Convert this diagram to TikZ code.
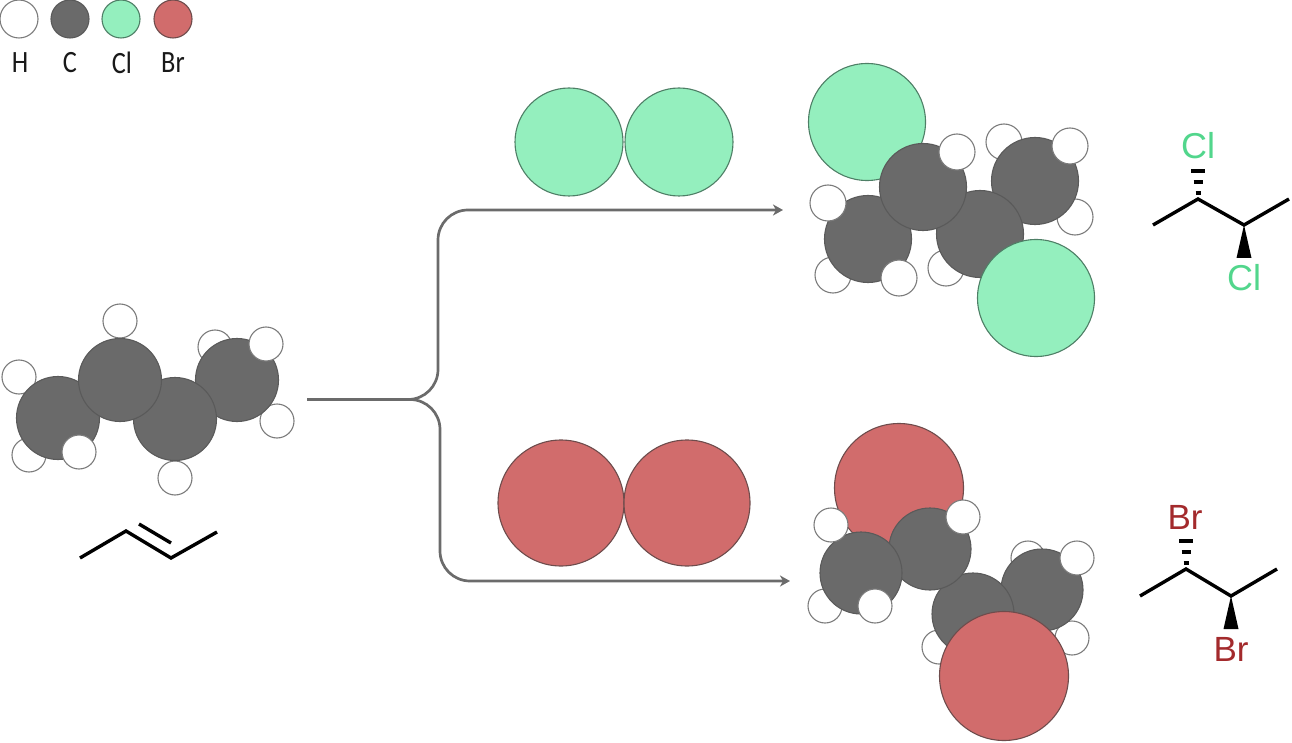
\documentclass[tikz,border=0pt]{standalone}
\usepackage{fontspec}
\setmainfont{Liberation Sans}
\newfontfamily\handfont{Carlito}
\usetikzlibrary{arrows.meta}
\definecolor{colH}{HTML}{FFFFFF}
\definecolor{colC}{HTML}{6A6A6A}
\definecolor{colCl}{HTML}{94EFBE}
\definecolor{colBr}{HTML}{D16C6C}
\definecolor{lineH}{HTML}{7C7C7C}
\definecolor{lineC}{HTML}{5A5A5A}
\definecolor{lineCl}{HTML}{4E7F66}
\definecolor{lineBr}{HTML}{6E4C4C}
\definecolor{textCl}{HTML}{52D68C}
\definecolor{textBr}{HTML}{A32A2C}
\tikzset{
	atomh/.style={circle,draw=lineH,fill=colH,line width=1.1pt,inner sep=0pt,minimum size=#1},
	atomc/.style={circle,draw=lineC,fill=colC,line width=1.1pt,inner sep=0pt,minimum size=#1},
	atomcl/.style={circle,draw=lineCl,fill=colCl,line width=1.1pt,inner sep=0pt,minimum size=#1},
	atombr/.style={circle,draw=lineBr,fill=colBr,line width=1.1pt,inner sep=0pt,minimum size=#1},
	legendtext/.style={font=\handfont\fontsize{31}{31}\selectfont,xscale=.85,transform shape,text=black!90},
	clabel/.style={font=\fontsize{36}{36}\selectfont,text=textCl,inner sep=0pt},
	brlabel/.style={font=\fontsize{35}{35}\selectfont,text=textBr,inner sep=0pt},
	skeleton/.style={line width=3.4pt,black,line join=miter},
	hashbond/.style={line width=3.2pt,black},
	reaction/.style={line width=2.7pt,draw=black!58,rounded corners=30pt,-{Stealth[length=10pt,width=11pt,inset=3pt]}}
}
\begin{document}
\begin{tikzpicture}[x=1pt,y=-1pt]
	\useasboundingbox (0,0) rectangle (1292,743);
	%Legend
	\node[atomh=38] (legH) at (19,19) {};
	\node[atomc=38] (legC) at (70,19) {};
	\node[atomcl=38] (legCl) at (121,19) {};
	\node[atombr=38] (legBr) at (173,19) {};
	\node[legendtext] (txtH) at (20,63) {H};
	\node[legendtext] (txtC) at (70,63) {C};
	\node[legendtext] (txtCl) at (122,63) {Cl};
	\node[legendtext] (txtBr) at (173,63) {Br};
	%Butene, back H
	\node[atomh=34] (buHa) at (215,347) {};
	\node[atomh=34] (buHb) at (29,455) {};
	\node[atomh=34] (buHc) at (120,321) {};
	\node[atomh=34] (buHd) at (19,377) {};
	\node[atomh=34] (buHe) at (175,478) {};
	\node[atomh=34] (buHf) at (277,421) {};
	%Butene, C
	\node[atomc=83] (buCd) at (237,380) {};
	\node[atomc=83] (buCc) at (175,419) {};
	\node[atomc=83] (buCa) at (58,418) {};
	\node[atomc=83] (buCb) at (120,380) {};
	%Butene, front H
	\node[atomh=34] (buHg) at (79,452) {};
	\node[atomh=34] (buHh) at (266,344) {};
	%Butene skeleton
	\coordinate (buSa) at (80,558);
	\coordinate (buSb) at (126,531);
	\coordinate (buSc) at (171,558);
	\coordinate (buSd) at (217,532);
	\coordinate (buSe) at (139,524);
	\coordinate (buSf) at (171,543);
	\draw[skeleton] (buSa)--(buSb)--(buSc)--(buSd);
	\draw[skeleton] (buSe)--(buSf);
	%Halogen molecules
	\node[atomcl=108] (clA) at (569,142) {};
	\node[atomcl=108] (clB) at (679,142) {};
	\node[atombr=126] (brA) at (561,503) {};
	\node[atombr=126] (brB) at (687,503) {};
	%Arrows
	\coordinate (start) at (307,399.5);
	\coordinate (forkUp) at (438,399.5);
	\coordinate (forkDown) at (440,399.5);
	\coordinate (kneeUp) at (438,210);
	\coordinate (kneeDown) at (440,581);
	\coordinate (tipUp) at (783,210);
	\coordinate (tipDown) at (790,581);
	\draw[reaction] (start)--(forkUp)--(kneeUp)--(tipUp);
	\draw[reaction] (start)--(forkDown)--(kneeDown)--(tipDown);
	%Dichloro, back
	\node[atomh=36] (dcHa) at (1004,142) {};
	\node[atomh=36] (dcHb) at (1075,217) {};
	\node[atomh=36] (dcHc) at (946,268) {};
	\node[atomh=36] (dcHd) at (833,275) {};
	\node[atomcl=117] (dcClA) at (867,122) {};
	%Dichloro, C
	\node[atomc=87] (dcCd) at (1035,181) {};
	\node[atomc=87] (dcCc) at (980,234) {};
	\node[atomc=87] (dcCa) at (868,239) {};
	\node[atomc=87] (dcCb) at (923,187) {};
	%Dichloro, front
	\node[atomh=36] (dcHe) at (828,203) {};
	\node[atomh=36] (dcHf) at (899,278) {};
	\node[atomh=36] (dcHg) at (957,152) {};
	\node[atomh=36] (dcHh) at (1070,146) {};
	\node[atomcl=117] (dcClB) at (1036,298) {};
	%Dibromo, back
	\node[atomh=34] (dbHa) at (1028,558) {};
	\node[atomh=34] (dbHb) at (1072,638) {};
	\node[atomh=34] (dbHc) at (939,647) {};
	\node[atomh=34] (dbHd) at (825,606) {};
	\node[atombr=129] (dbBrA) at (899,488) {};
	%Dibromo, C
	\node[atomc=82] (dbCd) at (1042,590) {};
	\node[atomc=82] (dbCc) at (973,614) {};
	\node[atomc=82] (dbCb) at (930,549) {};
	\node[atomc=82] (dbCa) at (861,573) {};
	%Dibromo, front
	\node[atomh=34] (dbHe) at (831,525) {};
	\node[atomh=34] (dbHf) at (875,606) {};
	\node[atomh=34] (dbHg) at (963,517) {};
	\node[atomh=34] (dbHh) at (1077,558) {};
	\node[atombr=129] (dbBrB) at (1004,676) {};
	%Cl skeleton
	\coordinate (csA) at (1153,225);
	\coordinate (csB) at (1198,199);
	\coordinate (csC) at (1244,225);
	\coordinate (csD) at (1289,199);
	\draw[skeleton] (csA)--(csB)--(csC)--(csD);
	\node[clabel] (csTop) at (1198,146) {Cl};
	\node[clabel] (csBot) at (1244,278) {Cl};
	\draw[hashbond] (1191,171)--(1205,171);
	\draw[hashbond] (1193.5,182)--(1202.5,182);
	\draw[hashbond] (1195.5,193)--(1200.5,193);
	\fill[black] (csC)--(1236.5,258)--(1251.5,258)--cycle;
	%Br skeleton
	\coordinate (bsA) at (1140,596);
	\coordinate (bsB) at (1186,569);
	\coordinate (bsC) at (1231,596);
	\coordinate (bsD) at (1277,569);
	\draw[skeleton] (bsA)--(bsB)--(bsC)--(bsD);
	\node[brlabel] (bsTop) at (1185,517) {Br};
	\node[brlabel] (bsBot) at (1231,649) {Br};
	\draw[hashbond] (1179,541)--(1193,541);
	\draw[hashbond] (1181.5,552)--(1190.5,552);
	\draw[hashbond] (1183.5,563)--(1188.5,563);
	\fill[black] (bsC)--(1223.5,629)--(1238.5,629)--cycle;
\end{tikzpicture}
\end{document}
